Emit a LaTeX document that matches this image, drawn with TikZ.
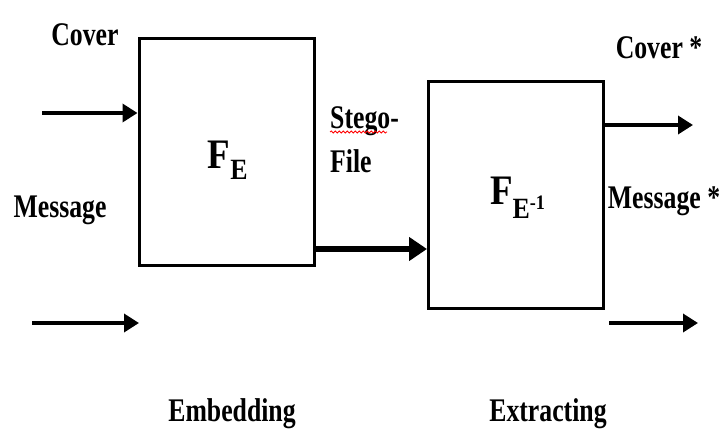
\documentclass[tikz,border=0pt]{standalone}
\usepackage{fontspec}
\setmainfont{Liberation Serif}[FakeStretch=0.78]
\newfontfamily\blkfont{Liberation Serif}[FakeStretch=0.88]
\usetikzlibrary{positioning,arrows.meta,decorations.pathmorphing}

\begin{document}
\begin{tikzpicture}[
    x=1pt, y=-1pt,
    blk/.style={draw, line width=3pt, minimum width=175pt, minimum height=227pt, inner sep=0pt},
    fn/.style={inner sep=0pt, font=\blkfont\fontsize{42}{44}\selectfont\bfseries},
    lbl/.style={inner sep=0pt, anchor=base, font=\fontsize{33}{38}\selectfont\bfseries},
    arr/.style={-{Triangle[length=15pt, width=18pt]}, line width=3.5pt},
    thickarr/.style={-{Triangle[length=18pt, width=23pt]}, line width=5.5pt},
    squig/.style={red, line width=0.8pt, decorate, decoration={snake, amplitude=1pt, segment length=4pt}}
]
\useasboundingbox (0,0) rectangle (722,434);
% the two function blocks
\node[blk] (emb) at (226.5,151.5) {};
\node[blk] (ext) at (516,194.5) {};
\node[fn] (fe) at (228,160) {F\textsubscript{E}};
\node[fn] (finv) at (518,198) {F\textsubscript{E\textsuperscript{-1}}};
% free ends of the outer arrows
\coordinate (cin) at (42,113);
\coordinate (min) at (32,323);
\coordinate (minend) at (139,323);
\coordinate (sg) at (320,249);
\coordinate (cout) at (693,125);
\coordinate (mout) at (609,323);
\coordinate (moutend) at (698,323);
\draw[arr] (cin) -- (emb.west |- cin);
\draw[arr] (min) -- (minend);
\draw[thickarr] (emb.east |- sg) -- (ext.west |- sg);
\draw[arr] (ext.east |- cout) -- (cout);
\draw[arr] (mout) -- (moutend);
% labels
\node[lbl] (cover) at (85,45) {Cover};
\node[lbl] (msg) at (60,217) {Message};
\node[lbl, anchor=base west] (stego) at (330,128) {Stego-};
\node[lbl, anchor=base west] (file) at (330,172) {File};
\draw[squig] ([yshift=-4pt]stego.base west) -- ([xshift=-12pt, yshift=-4pt]stego.base east);
\node[lbl] (covs) at (659,58) {Cover *};
\node[lbl] (msgs) at (664,208) {Message *};
\node[lbl] (embl) at (232,421) {Embedding};
\node[lbl] (extl) at (548,421) {Extracting};
\end{tikzpicture}
\end{document}
